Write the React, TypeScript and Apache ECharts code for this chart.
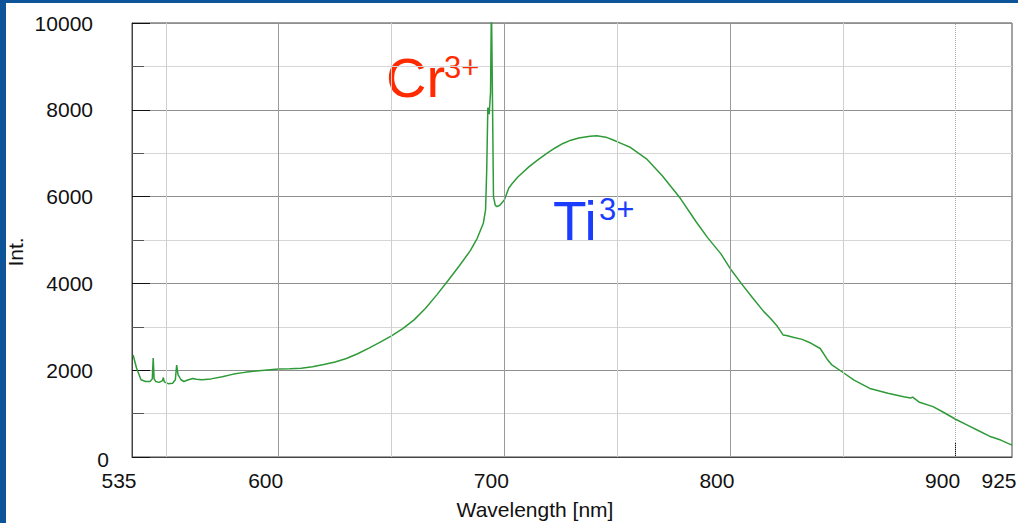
import React, { useEffect, useRef } from 'react';
import * as echarts from 'echarts';

const wavelength = [
  535.5, 537, 539, 541, 543, 544, 544.4, 544.8, 545.5, 547, 548.5, 548.9, 549.3, 551, 553, 554.2, 554.8, 555.4, 556.7, 558,
  560, 562, 563.5, 566, 570, 575, 580, 585, 590, 595, 600, 605, 610, 615, 620, 625, 630, 635, 640, 645,
  650, 655, 660, 665, 670, 675, 680, 685, 688, 690.7, 691.7, 692.2, 692.7, 693.3, 693.9, 694.3, 694.8, 695.2, 696, 696.8,
  698, 700, 702, 703.5, 706, 711, 715, 719, 722.5, 726, 729.5, 733, 738, 741, 745, 748, 752, 756, 763, 770, 778, 785,
  790, 796, 800, 805, 810, 815, 818, 821, 823.6, 825, 828, 832, 836, 840, 843, 845, 849.5, 855, 862, 870,
  877, 880, 881, 884, 890, 895, 900, 905, 910, 915, 920, 925,
];
const intensity = [
  2350, 2050, 1780, 1740, 1740, 1800, 2280, 1800, 1740, 1720, 1760, 1830, 1730, 1690, 1700, 1780, 2120, 1900, 1780, 1740,
  1780, 1810, 1790, 1780, 1800, 1850, 1910, 1950, 1980, 2005, 2030, 2035, 2045, 2080, 2130, 2190, 2270, 2380, 2510, 2645,
  2790, 2960, 3160, 3420, 3730, 4060, 4400, 4760, 5040, 5385, 5700, 6600, 8050, 7900, 8400, 10500, 8000, 6000, 5800, 5770,
  5800, 5920, 6200, 6300, 6450, 6690, 6850, 7000, 7120, 7225, 7300, 7350, 7390, 7400, 7370, 7310, 7220, 7130, 6870, 6480, 5960, 5420,
  5060, 4680, 4350, 4000, 3670, 3350, 3190, 3010, 2810, 2800, 2760, 2710, 2620, 2500, 2260, 2130, 1970, 1770, 1580, 1470,
  1390, 1360, 1380, 1260, 1160, 1020, 870, 740, 610, 480, 390, 275,
];

const xLabelValues = [535, 600, 700, 800, 900, 925];
const xMajorTicks = [600, 700, 800, 900];
const xMinorTicks = [550, 650, 750, 850];
const xGridLines = [550, 600, 650, 700, 750, 800, 850, 900];

const FONT = 'Liberation Sans, Arial, sans-serif';
const BLUE = '#0d5499';

export default function App() {
  const ref = useRef<HTMLDivElement>(null);
  useEffect(() => {
    const chart = echarts.init(ref.current!, null, { renderer: 'svg' });
    const data = wavelength.map((w, i) => [w, intensity[i]]);
    const gridStyle = (v: number) => {
      if (v === 900) return { color: '#a8a8a8', type: 'dotted' as const, width: 1 };
      if (v % 100 === 0) return { color: '#9a9a9a', type: 'solid' as const, width: 1 };
      return { color: '#cfcfcf', type: 'solid' as const, width: 1 };
    };
    chart.setOption({
      animation: false,
      backgroundColor: '#ffffff',
      textStyle: { fontFamily: FONT },
      grid: { left: 132, right: 6, top: 23, bottom: 66, show: true, borderColor: '#444', borderWidth: 1, containLabel: false, outerBoundsMode: 'none' },
      xAxis: [
        {
          type: 'value', min: 535, max: 925, position: 'bottom',
          axisLine: { show: true, onZero: false, lineStyle: { color: '#444', width: 1 } },
          axisTick: { show: true, inside: true, length: 14, customValues: xMajorTicks, lineStyle: { color: '#111' } },
          axisLabel: { customValues: xLabelValues, fontSize: 21, color: '#111', margin: 13, padding: [0, 26, 0, 0], fontFamily: FONT },
          splitLine: { show: false },
        },
        {
          type: 'value', min: 535, max: 925, position: 'bottom',
          axisLine: { show: false, onZero: false },
          axisTick: { show: true, inside: true, length: 8, customValues: xMinorTicks, lineStyle: { color: '#111' } },
          axisLabel: { show: false },
          splitLine: { show: false },
        },
      ],
      yAxis: {
        type: 'value', min: 0, max: 10000, interval: 2000,
        axisLine: { show: true, onZero: false, lineStyle: { color: '#444', width: 1 } },
        axisTick: { show: true, inside: true, length: 18, lineStyle: { color: '#111' } },
        minorTick: { show: true, splitNumber: 2, length: 12, lineStyle: { color: '#555' } },
        axisLabel: {
          fontSize: 21, color: '#111', margin: 39, padding: [6, 0, 0, 0], fontFamily: FONT,
          formatter: (v: number) => (v === 0 ? '' : String(v)),
        },
        splitLine: { show: true, lineStyle: { color: '#8f8f8f', width: 1 } },
        minorSplitLine: { show: true, lineStyle: { color: '#d6d6d6', width: 1 } },
      },
      graphic: [
        { type: 'rect', shape: { x: 0, y: 0, width: 6, height: 523 }, style: { fill: BLUE }, silent: true },
        { type: 'rect', shape: { x: 0, y: 0, width: 1018, height: 3 }, style: { fill: BLUE }, silent: true },
        { type: 'text', x: 103, y: 459, style: { text: '0', font: `21px ${FONT}`, fill: '#111', align: 'center', verticalAlign: 'middle' } },
        { type: 'text', x: 535, y: 509, style: { text: 'Wavelength [nm]', font: `21px ${FONT}`, fill: '#111', align: 'center', verticalAlign: 'middle' } },
        { type: 'text', x: 15, y: 252, rotation: Math.PI / 2, style: { text: 'Int.', font: `21px ${FONT}`, fill: '#111', align: 'center', verticalAlign: 'middle' } },
        { type: 'text', x: 386, y: 77.5, style: { text: 'Cr', font: `56px ${FONT}`, fill: '#ff2a00', align: 'left', verticalAlign: 'middle' } },
        { type: 'text', x: 444, y: 67, style: { text: '3+', font: `31px ${FONT}`, fill: '#ff2a00', align: 'left', verticalAlign: 'middle' } },
        { type: 'text', x: 553, y: 221, style: { text: 'Ti', font: `55px ${FONT}`, fill: '#1a3cff', align: 'left', verticalAlign: 'middle' } },
        { type: 'text', x: 599, y: 209, style: { text: '3+', font: `31px ${FONT}`, fill: '#1a3cff', align: 'left', verticalAlign: 'middle' } },
      ],
      series: [
        {
          type: 'line', data: [], z: 1, silent: true, xAxisIndex: 0,
          markLine: {
            silent: true, symbol: ['none', 'none'], label: { show: false },
            lineStyle: { type: 'solid' },
            data: xGridLines.map((v) => ({ xAxis: v, lineStyle: gridStyle(v) })),
          },
        },
        {
          type: 'line', data, z: 3, xAxisIndex: 0, showSymbol: false, symbol: 'none', clip: true,
          lineStyle: { color: '#2f9b38', width: 1.5 },
        },
      ],
    });
    return () => chart.dispose();
  }, []);
  return <div ref={ref} style={{ position: 'fixed', left: 0, top: 0, width: 1018, height: 523 }} />;
}
